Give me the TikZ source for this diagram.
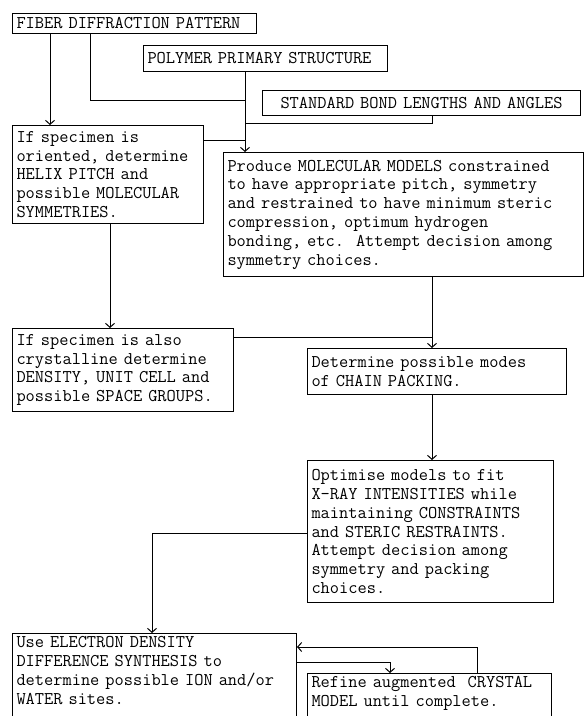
\documentclass[tikz,border=0pt]{standalone}
\usepackage{fontspec}
\usetikzlibrary{arrows.meta}
\tikzset{
  box/.style={draw, line width=1pt, anchor=north west, align=left, inner xsep=4pt, inner ysep=3pt,
    font=\ttfamily\fontsize{17.9}{18.8}\selectfont\frenchspacing},
  link/.style={draw, line width=1pt},
  flow/.style={link, -{Straight Barb[length=4pt,width=9pt]}},
}
\begin{document}
\begin{tikzpicture}[x=1pt,y=-1pt]
\useasboundingbox (0,0) rectangle (585,716);
\clip (0,0) rectangle (585,716);
\node[box, text width=236pt, minimum height=20pt] (1) at (12,13) {FIBER DIFFRACTION PATTERN};
\node[box, text width=236pt, minimum height=26pt] (2) at (143,45) {POLYMER PRIMARY STRUCTURE};
\node[box, text width=310pt, minimum height=25pt, align=center] (3) at (262,90) {STANDARD BOND LENGTHS AND ANGLES};
\node[box, text width=183pt, minimum height=98pt] (4) at (12,125) {If specimen is\\oriented, determine\\HELIX PITCH and\\possible MOLECULAR\\SYMMETRIES.};
\node[box, text width=352pt, minimum height=124pt] (5) at (223,152) {Produce MOLECULAR MODELS constrained\\to have appropriate pitch, symmetry\\and restrained to have minimum steric\\compression, optimum hydrogen\\bonding, etc.~~Attempt decision among\\symmetry choices.};
\node[box, text width=213pt, minimum height=83pt] (6) at (12,328) {If specimen is also\\crystalline determine\\DENSITY, UNIT CELL and\\possible SPACE GROUPS.};
\node[box, text width=251pt, minimum height=46pt] (7) at (307,348) {Determine possible modes\\of CHAIN PACKING.};
\node[box, text width=238pt, minimum height=142pt] (8) at (307,460) {Optimise models to fit\\X-RAY INTENSITIES while\\maintaining CONSTRAINTS\\and STERIC RESTRAINTS.\\Attempt decision among\\symmetry and packing\\choices.};
\node[box, text width=276pt] (9) at (12,633) {Use ELECTRON DENSITY\\DIFFERENCE SYNTHESIS to\\determine possible ION and/or\\WATER sites.\rule[-20pt]{0pt}{20pt}};
\node[box, text width=236pt] (10) at (307,673) {Refine augmented~~CRYSTAL\\MODEL until complete.\rule[-20pt]{0pt}{20pt}};

\coordinate (j1) at (245,100);
\coordinate (j2) at (245,123);
\coordinate (j3) at (245,140);
\coordinate (j4) at (432,337);

\path[flow] ([xshift=38pt]1.south west) -- ([xshift=38pt]4.north west);
\path[link] ([xshift=78pt]1.south west) |- (j1);
\path[flow] ([xshift=102pt]2.south west) -- ([xshift=22pt]5.north west);
\path[link] ([xshift=170pt]3.south west) |- (j2);
\path[link] ([yshift=-15pt]4.north east) -- (j3);
\path[flow] ([xshift=98pt]4.south west) -- ([xshift=98pt]6.north west);
\path[flow] ([xshift=209pt]5.south west) -- ([xshift=125pt]7.north west);
\path[link] ([yshift=-9pt]6.north east) -- (j4);
\path[flow] ([xshift=125pt]7.south west) -- ([xshift=125pt]8.north west);
\path[flow] ([yshift=-73pt]8.north west) -| ([xshift=140pt]9.north west);
\path[flow] ([xshift=170pt]10.north west) |- ([yshift=-14pt]9.north east);
\path[flow] ([yshift=-29pt]9.north east) -| ([xshift=83pt]10.north west);
\end{tikzpicture}
\end{document}
